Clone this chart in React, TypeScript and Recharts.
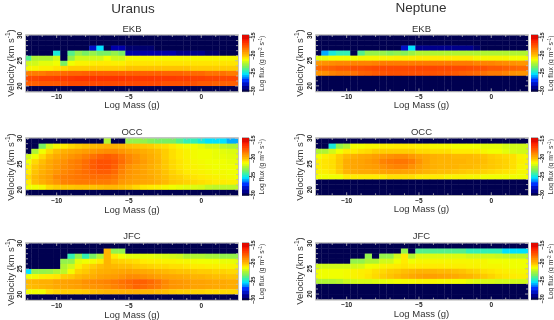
import React from "react";
import { ScatterChart, Scatter, XAxis, YAxis, ReferenceArea } from "recharts";

const massBins = [-12,-11.5,-11,-10.5,-10,-9.5,-9,-8.5,-8,-7.5,-7,-6.5,-6,-5.5,-5,-4.5,-4,-3.5,-3,-2.5,-2,-1.5,-1,-0.5,0,0.5,1,1.5,2,2.5];
const velocityBins = [29,28,27,26,25,24,23,22,21,20,19];
const massTicks = [-12,-11,-10,-9,-8,-7,-6,-5,-4,-3,-2,-1,0,1,2];
const velocityTicks = [20,21,22,23,24,25,26,27,28,29,30];
const fluxTicks = [-15,-20,-25,-30];
const fluxLevels = [-30,-29,-28,-27,-26,-25.5,-25,-24.5,-24,-23.5,-23,-22.5,-22,-21.5,-21,-20.5,-20,-19.5,-19,-18.5,-18,-17.5,-17,-16.5,-16,-15.5,-15];
const BLANK = [-30,-30,-30,-30,-30,-30,-30,-30,-30,-30,-30,-30,-30,-30,-30,-30,-30,-30,-30,-30,-30,-30,-30,-30,-30,-30,-30,-30,-30,-30];

const uranusEkb = [
  BLANK, BLANK,
  [-30,-30,-30,-30,-30,-30,-30,-30,-30,-28,-25,-30,-28.5,-28.5,-29.5,-29.5,-29.5,-29.5,-30,-30,-30,-30,-30,-30,-30,-30,-30,-30,-30,-30],
  [-30,-30,-30,-30,-24.5,-30,-23.5,-22.5,-23,-22.5,-23,-23,-22.5,-23,-28.5,-28.5,-28.5,-28.5,-28.5,-28.5,-28.5,-29,-29,-29,-29,-29.5,-29.5,-30,-30,-30],
  [-23.5,-22,-22,-22,-21.5,-30,-22.5,-21.5,-21.5,-21.5,-21.5,-21,-21.5,-21.5,-20.8,-20.8,-20.8,-20.8,-20.8,-20.8,-20.8,-20.8,-20.8,-20.8,-20.8,-20.8,-20.8,-20.8,-20.8,-20.8],
  [-21.5,-21.5,-21.2,-21.2,-21,-23,-21,-20.7,-20.7,-20.6,-20.5,-20.5,-20.6,-20.6,-20.4,-20.4,-20.4,-20.4,-20.4,-20.4,-20.4,-20.4,-20.4,-20.4,-20.4,-20.4,-20.4,-20.4,-20.4,-20.4],
  [-20.8,-20.8,-20.6,-20.6,-20.4,-20.2,-20,-20,-20,-20,-20,-20,-20,-20,-19.8,-19.8,-19.8,-19.8,-19.8,-19.8,-19.8,-19.8,-19.8,-20,-20,-20,-20,-20,-20,-20],
  [-18,-18,-18,-17.8,-17.8,-17.6,-17.5,-17.5,-17.4,-17.4,-17.4,-17.4,-17.4,-17.4,-17.4,-17.4,-17.4,-17.4,-17.4,-17.5,-17.5,-17.5,-17.6,-17.6,-17.6,-17.8,-17.8,-17.8,-18,-18],
  [-16.8,-16.8,-16.6,-16.6,-16.5,-16.4,-16.3,-16.2,-16.2,-16.2,-16.2,-16.2,-16.2,-16.2,-16.3,-16.3,-16.3,-16.3,-16.4,-16.4,-16.4,-16.5,-16.5,-16.6,-16.6,-16.7,-16.7,-16.8,-16.8,-16.8],
  [-17.4,-17.4,-17.2,-17.2,-17.2,-17,-16.8,-16.8,-16.8,-16.8,-16.8,-16.8,-16.8,-16.8,-16.8,-16.8,-16.8,-16.8,-16.8,-17,-17,-17,-17,-17,-17.2,-17.2,-17.4,-17.4,-17.4,-17.4],
  BLANK,
];

const neptuneEkb = [
  BLANK, BLANK,
  [-30,-30,-30,-30,-30,-30,-30,-30,-30,-30,-30,-30,-28,-25,-29,-29,-29,-29,-29,-29,-29,-29,-29.5,-30,-30,-30,-30,-30,-30,-30],
  [-30,-25.5,-24.5,-24,-24,-30,-23.5,-22.5,-22.5,-22.5,-22.8,-22.6,-22.8,-22.4,-22,-22,-22,-22,-22,-22,-22,-22,-22,-22,-22,-22,-22,-22,-22,-22],
  [-21.2,-21.2,-21,-21,-21,-21,-20.8,-20.8,-20.8,-20.7,-20.7,-20.6,-20.6,-20.6,-20.5,-20.5,-20.5,-20.5,-20.5,-20.5,-20.5,-20.5,-20.8,-20.8,-20.8,-20.8,-20.8,-21,-21,-21],
  [-18.6,-18.5,-18.4,-18.3,-18.3,-18.2,-18.2,-18.2,-18.1,-18,-18,-18,-18,-18,-18,-18,-18,-18,-18,-18,-18,-18,-18.2,-18.2,-18.2,-18.3,-18.4,-18.5,-18.6,-18.6],
  [-17.6,-17.5,-17.4,-17.2,-17.2,-17,-17,-16.9,-16.8,-16.8,-16.8,-16.8,-16.8,-16.8,-16.7,-16.7,-16.7,-16.8,-16.8,-16.8,-16.8,-16.9,-17,-17,-17.2,-17.2,-17.4,-17.5,-17.6,-17.6],
  [-18.6,-18.5,-18.2,-18,-18,-17.8,-17.5,-17.4,-17.2,-17.1,-17,-17,-17,-17,-17,-17,-17,-17.1,-17.1,-17.2,-17.4,-17.5,-17.6,-17.8,-18,-18,-18.2,-18.5,-18.6,-18.6],
  BLANK, BLANK, BLANK,
];

const uranusOcc = [
  [-30,-30,-30,-30,-30,-30,-30,-30,-30,-30,-30,-22,-30,-30,-22.5,-22.5,-22.5,-22.8,-23,-23,-23,-23.5,-24,-24,-24.5,-25,-25,-25,-25.5,-25.5],
  [-30,-30,-23,-21.5,-20.8,-20.5,-20.2,-20,-19.8,-19.6,-19.5,-19.4,-19.4,-19.5,-19.7,-19.8,-19.9,-20,-20.2,-20.3,-20.5,-20.8,-21,-21,-21.2,-21.5,-21.5,-21.8,-22,-22],
  [-30,-22,-21,-20.2,-19.7,-19.4,-19.2,-19,-18.8,-18.7,-18.5,-18.4,-18.4,-18.6,-18.9,-19.1,-19.3,-19.5,-19.7,-20,-20.3,-20.5,-20.7,-20.9,-21,-21,-21.1,-21.2,-21.3,-21.3],
  [-21.5,-21,-20.2,-19.6,-19.2,-18.9,-18.6,-18.4,-18.1,-17.8,-17.5,-17.3,-17.5,-17.9,-18.3,-18.6,-19,-19.3,-19.6,-20,-20.3,-20.5,-20.7,-20.9,-21,-21,-21.1,-21.1,-21.2,-21.2],
  [-21,-20.2,-19.7,-19.2,-18.8,-18.5,-18.2,-18,-17.7,-17.3,-17,-17,-17.2,-17.7,-18.2,-18.5,-18.8,-19.2,-19.5,-19.9,-20.2,-20.4,-20.6,-20.8,-20.9,-21,-21,-21,-21.1,-21.1],
  [-20.6,-19.9,-19.5,-19.1,-18.7,-18.4,-18.2,-18,-17.7,-17.3,-17,-17,-17.4,-18,-18.5,-18.8,-19,-19.3,-19.6,-19.9,-20.2,-20.4,-20.6,-20.7,-20.8,-20.9,-21,-21,-21,-21],
  [-20.5,-19.8,-19.4,-19,-18.6,-18.3,-18.1,-17.9,-17.7,-17.5,-17.3,-17.3,-17.6,-18.2,-18.6,-18.8,-19,-19.3,-19.5,-19.8,-20.1,-20.3,-20.5,-20.6,-20.7,-20.8,-20.9,-20.9,-21,-21],
  [-20.2,-19.6,-19.2,-18.9,-18.3,-18.1,-18,-17.9,-17.8,-17.7,-17.7,-17.7,-17.9,-18.4,-18.7,-18.9,-19,-19.2,-19.5,-19.7,-20,-20.1,-20.3,-20.4,-20.5,-20.6,-20.7,-20.8,-20.9,-21],
  [-20.5,-19.7,-19.4,-19,-18.6,-18.2,-18.1,-18,-18,-18,-18,-18,-18.2,-18.7,-18.9,-19,-19.1,-19.2,-19.4,-19.6,-19.9,-20,-20.1,-20.2,-20.3,-20.4,-20.5,-20.5,-20.6,-20.6],
  [-21,-21,-20.8,-20.2,-20,-19.9,-19.9,-19.8,-19.8,-19.8,-19.7,-19.6,-19.6,-19.7,-19.9,-20.2,-20.4,-20.5,-20.6,-20.8,-21,-21.1,-21.2,-21.3,-21.4,-21.7,-21.8,-21.8,-21.8,-21.8],
  BLANK,
];

const neptuneOcc = [
  BLANK,
  [-30,-30,-24.5,-22.5,-22,-21,-21,-20.8,-20.8,-20.6,-20.6,-20.5,-20.5,-20.5,-20.6,-20.6,-20.8,-20.8,-20.8,-21,-21,-21,-21,-21.2,-21.2,-21.2,-21.4,-21.5,-21.5,-21.5],
  [-22,-22,-21.5,-21,-20.5,-20.5,-20.3,-20.2,-20,-20,-20,-20,-20,-20,-20.2,-20.2,-20.3,-20.3,-20.3,-20.5,-20.5,-20.5,-20.5,-20.8,-21,-21,-21.2,-21.4,-21.5,-21.5],
  [-21,-20.6,-20.4,-20,-19.6,-19.4,-19.2,-19.1,-18.9,-18.7,-18.5,-18.4,-18.4,-18.7,-19,-19.2,-19.4,-19.5,-19.5,-19.6,-19.6,-19.6,-19.7,-19.8,-20,-20.1,-20.2,-20.3,-20.7,-20.8],
  [-20.6,-20.4,-20.3,-19.9,-19.3,-19.1,-19,-18.8,-18.6,-18.2,-18,-17.9,-17.9,-18.1,-18.6,-19.1,-19.4,-19.5,-19.5,-19.5,-19.5,-19.6,-19.6,-19.7,-19.9,-20,-20.1,-20.3,-20.6,-20.7],
  [-20.6,-20.4,-20.3,-19.9,-19.3,-19.1,-19,-18.9,-18.8,-18.5,-18.3,-18.2,-18.2,-18.5,-18.9,-19.2,-19.4,-19.5,-19.5,-19.5,-19.6,-19.6,-19.7,-19.8,-19.9,-20,-20.1,-20.3,-20.7,-20.8],
  [-20.7,-20.6,-20.4,-20,-19.5,-19.3,-19.2,-19.2,-19.1,-19,-18.9,-18.9,-19,-19.1,-19.3,-19.5,-19.6,-19.7,-19.7,-19.8,-19.9,-20,-20,-20.1,-20.2,-20.3,-20.4,-20.5,-20.8,-20.8],
  [-21,-21,-21,-21,-20.5,-20.5,-20.5,-20.5,-20.5,-20.5,-20.3,-20.3,-20.3,-20.3,-20.5,-20.5,-20.5,-20.5,-20.7,-20.7,-20.7,-20.8,-20.8,-21,-21,-21,-21,-21,-21,-21],
  BLANK, BLANK, BLANK,
];

const uranusJfc = [
  BLANK,
  [-30,-30,-30,-30,-30,-30,-30,-30,-30,-30,-30,-19.5,-22.5,-22.5,-30,-30,-30,-30,-30,-30,-30,-30,-30,-30,-30,-30,-30,-30,-30,-30],
  [-30,-30,-30,-30,-30,-30,-24,-22.5,-24,-23,-22,-19.5,-20.5,-21,-21.2,-21.2,-21.2,-21.2,-21.3,-21.4,-21.5,-21.6,-22,-22,-22,-22.2,-22.2,-22.5,-22.5,-22.5],
  [-30,-30,-30,-30,-30,-22.5,-22.5,-21.2,-21,-20.9,-20.5,-19.5,-20,-20.1,-20.2,-20.3,-20.5,-20.6,-20.6,-20.7,-20.7,-20.8,-20.8,-20.9,-21,-21,-21,-21.1,-21.1,-21.2],
  [-30,-30,-30,-30,-30,-22,-21.5,-20.6,-20.2,-20,-19.7,-19.5,-19.6,-19.7,-19.7,-19.9,-20,-20.1,-20.2,-20.2,-20.3,-20.3,-20.4,-20.5,-20.5,-20.6,-20.6,-20.7,-20.7,-20.7],
  [-25,-22.5,-22.5,-22.4,-22,-21.8,-20.9,-20.1,-19.9,-19.6,-19.4,-19.3,-19.2,-19.1,-19,-19.1,-19.2,-19.3,-19.5,-19.6,-19.7,-19.8,-19.8,-19.9,-20,-20,-20.1,-20.1,-20.2,-20.2],
  [-21,-20.9,-20.6,-20.5,-20.4,-20,-19.9,-19.6,-19.4,-19.3,-19,-18.9,-18.8,-18.6,-18.4,-18.4,-18.5,-18.7,-18.9,-19,-19.1,-19.2,-19.3,-19.5,-19.5,-19.6,-19.7,-19.7,-19.8,-19.8],
  [-19.6,-19.5,-19.4,-19.4,-19.1,-19,-18.9,-18.8,-18.5,-18.4,-18.3,-18.2,-18,-17.8,-17.6,-17.4,-17.4,-17.6,-17.9,-18.3,-18.6,-18.7,-18.8,-19,-19,-19.1,-19.2,-19.2,-19.3,-19.3],
  [-19.7,-19.6,-19.5,-19.4,-19.2,-19.1,-19,-18.9,-18.7,-18.6,-18.5,-18.4,-18.2,-18,-17.8,-17.5,-17.6,-17.8,-18,-18.4,-18.6,-18.7,-18.8,-19,-19,-19.1,-19.2,-19.2,-19.3,-19.3],
  [-21,-21,-21,-20.3,-20.1,-20,-20,-20,-19.9,-19.7,-19.6,-19.5,-19.5,-19.4,-19.4,-19.4,-19.5,-19.5,-19.6,-19.7,-19.9,-20,-20,-20.1,-20.1,-20.2,-20.2,-20.2,-20.2,-20.2],
  BLANK,
];

const neptuneJfc = [
  BLANK,
  [-30,-30,-30,-30,-30,-30,-30,-30,-30,-30,-30,-30,-22.5,-30,-23.5,-23.5,-23.5,-23.5,-23.5,-23.5,-23.5,-24,-24,-24,-24,-24,-25,-25,-25,-25],
  [-30,-30,-30,-30,-30,-30,-30,-22.5,-30,-22.5,-22.5,-21.5,-20.5,-22,-21.3,-21.3,-21.3,-21.3,-21.3,-21.3,-21.3,-21.5,-21.5,-21.5,-21.5,-21.6,-21.7,-21.8,-21.8,-21.8],
  [-30,-30,-30,-30,-30,-22.5,-22.5,-22,-22,-21.5,-21.5,-21,-20.5,-21,-20.8,-20.8,-20.8,-20.8,-20.8,-20.8,-20.8,-20.8,-20.8,-20.8,-21,-21,-21,-21,-21,-21],
  [-21.5,-21.5,-21.5,-21.5,-21.5,-21.5,-21.4,-21,-20.9,-20.7,-20.6,-20.5,-20.4,-20.5,-20.5,-20.5,-20.5,-20.5,-20.6,-20.6,-20.6,-20.7,-20.7,-20.8,-20.8,-20.8,-20.9,-21,-21,-21],
  [-21,-21,-21,-21,-20.9,-20.7,-20.6,-20.5,-20.3,-20.2,-20,-19.9,-19.7,-19.6,-19.5,-19.5,-19.5,-19.6,-19.6,-19.7,-19.8,-20,-20.1,-20.3,-20.4,-20.5,-20.6,-20.7,-20.8,-20.8],
  [-21,-21,-21,-21,-20.9,-20.7,-20.6,-20.4,-20.2,-20,-19.8,-19.6,-19.4,-19.2,-19,-18.9,-18.9,-19,-19.1,-19.2,-19.4,-19.5,-19.7,-19.9,-20.1,-20.3,-20.4,-20.5,-20.6,-20.6],
  [-22,-22,-22,-21.9,-21.6,-21.5,-21.4,-21.4,-21.3,-21.2,-21.1,-21,-20.9,-20.9,-20.8,-20.8,-20.8,-20.9,-20.9,-21,-21,-21.2,-21.3,-21.4,-21.4,-21.5,-21.5,-21.5,-21.5,-21.5],
  BLANK, BLANK, BLANK,
];

const colorStops: [number, number, number, number][] = [
  [-30, 0, 0, 80], [-28.5, 0, 0, 170], [-27, 0, 50, 255], [-25.5, 0, 170, 255], [-25, 0, 225, 255],
  [-24, 50, 240, 180], [-23, 120, 240, 100], [-22, 175, 245, 50], [-21, 240, 255, 0], [-20.5, 255, 235, 0],
  [-20, 255, 205, 0], [-19.5, 255, 180, 0], [-18.5, 255, 145, 0], [-17.5, 255, 100, 0], [-16.5, 255, 62, 0], [-15.5, 250, 30, 0], [-15, 225, 10, 0],
];

function fluxColor(v: number): string {
  for (let i = 1; i < colorStops.length; i++) {
    if (v <= colorStops[i][0]) {
      const a = colorStops[i - 1], b = colorStops[i];
      const t = (v - a[0]) / (b[0] - a[0]);
      return `rgb(${[1, 2, 3].map((k) => Math.round(a[k] + (b[k] - a[k]) * t)).join(",")})`;
    }
  }
  return "rgb(225,10,0)";
}

const FONT = "Liberation Sans, Arial, sans-serif";
const INK = "#333";
const X_MIN = -12.12, X_MAX = 2.54, Y_MIN = 18.9, Y_MAX = 30.1;
const FLUX_MIN = -30.2, FLUX_MAX = -14.4;

function HeatPanel({ rows, left, top, width, height, title, titleY, labelY, bar }: any) {
  const data = rows.flatMap((row: number[], r: number) =>
    row.map((v, c) => ({ x: massBins[c], y: velocityBins[r] + 0.5, v }))
  );
  const pxX = width / (X_MAX - X_MIN);
  const pxY = height / (Y_MAX - Y_MIN);
  const ml = 30, mt = 14, mr = 4, mb = 22;
  const Cell = (p: any) => {
    if (p.cx == null) return null;
    const x0 = Math.max(ml, p.cx - 0.25 * pxX);
    const x1 = Math.min(ml + width, p.cx + 0.25 * pxX);
    const y0 = Math.max(mt, p.cy - 0.5 * pxY);
    const y1 = Math.min(mt + height, p.cy + 0.5 * pxY);
    return <rect x={x0} y={y0} width={x1 - x0 + 0.3} height={y1 - y0 + 0.3} fill={fluxColor(p.payload.v)} />;
  };
  const XTick = (p: any) => {
    const v = p.payload.value;
    const major = v % 5 === 0;
    return (
      <g>
        <line x1={p.x} x2={p.x} y1={mt + height} y2={mt + height - (major ? 3 : 2)} stroke="#b8b8b8" strokeWidth={0.8} />
        <line x1={p.x} x2={p.x} y1={mt} y2={mt + (major ? 3 : 2)} stroke="#b8b8b8" strokeWidth={0.8} />
        {major && (
          <text x={p.x} y={mt + height + 7.5} textAnchor="middle" fontSize={6.5} fontWeight="bold" fontFamily={FONT} fill="#222">
            {v === 0 ? "0" : `\u2212${Math.abs(v)}`}
          </text>
        )}
      </g>
    );
  };
  const YTick = (p: any) => {
    const v = p.payload.value;
    const major = v % 5 === 0;
    return (
      <g>
        <line x1={ml} x2={ml + (major ? 3 : 2)} y1={p.y} y2={p.y} stroke="#b8b8b8" strokeWidth={0.8} />
        <line x1={ml + width} x2={ml + width - (major ? 3 : 2)} y1={p.y} y2={p.y} stroke="#b8b8b8" strokeWidth={0.8} />
        {major && (
          <text transform={`translate(${ml - 4.5},${p.y}) rotate(-90)`} textAnchor="middle" fontSize={6.5} fontWeight="bold" fontFamily={FONT} fill="#222">
            {v}
          </text>
        )}
      </g>
    );
  };
  return (
    <div style={{ position: "absolute", left: left - ml, top: top - mt }}>
      <ScatterChart width={ml + width + mr} height={mt + height + mb} margin={{ left: 0, top: mt, right: mr, bottom: 0 }}>
        <XAxis type="number" dataKey="x" domain={[X_MIN, X_MAX]} ticks={massTicks} interval={0} axisLine={false} tickLine={false} tick={XTick} height={mb} allowDataOverflow />
        <YAxis type="number" dataKey="y" domain={[Y_MIN, Y_MAX]} ticks={velocityTicks} interval={0} axisLine={false} tickLine={false} tick={YTick} width={ml} allowDataOverflow />
        <Scatter data={data} shape={Cell} isAnimationActive={false} />
        <ReferenceArea x1={X_MIN} x2={X_MAX} y1={Y_MIN} y2={Y_MAX} fill="none" stroke="#b4b4b4" strokeWidth={1.6} ifOverflow="visible" />
      </ScatterChart>
      <Label x={ml + width / 2} y={titleY - top + mt} size={9.5} text={title} />
      <Label x={ml + width / 2} y={labelY - top + mt} size={9.5} text="Log Mass (g)" />
      <YLabel x={ml - 16.5} y={mt + height / 2} />
      <ColorBar x={bar - left + ml} y={mt} height={height} />
    </div>
  );
}

function Label({ x, y, size, text }: any) {
  return (
    <div style={{ position: "absolute", left: x - 100, width: 200, top: y - size, lineHeight: `${size * 2}px`, textAlign: "center", fontFamily: FONT, fontSize: size, color: INK }}>
      {text}
    </div>
  );
}

function YLabel({ x, y }: any) {
  return (
    <svg style={{ position: "absolute", left: x - 12, top: y - 45, overflow: "visible" }} width={24} height={90}>
      <text transform="translate(12,45) rotate(-90)" y={3.5} textAnchor="middle" fontFamily={FONT} fontSize={9.5} fill={INK}>
        Velocity (km s<tspan dy={-3.5} fontSize={6.5}>-1</tspan><tspan dy={3.5}>)</tspan>
      </text>
    </svg>
  );
}

function ColorBar({ x, y, height }: any) {
  const w = 7;
  const pad = 7;
  const data = fluxLevels.map((f) => ({ x: 0.5, y: f, v: f }));
  const pxY = height / (FLUX_MAX - FLUX_MIN);
  const Seg = (p: any) => {
    if (p.cx == null) return null;
    return <rect x={0} y={p.cy - pxY * 0.62} width={w} height={pxY * 1.24} fill={fluxColor(p.payload.v)} />;
  };
  const Tick = (p: any) => (
    <g>
      <line x1={w} x2={w + 2} y1={p.y} y2={p.y} stroke="#222" strokeWidth={0.8} />
      <text transform={`translate(${w + 6},${p.y}) rotate(-90)`} textAnchor="middle" fontSize={5.5} fontWeight="bold" fontFamily={FONT} fill="#222">
        {`\u2212${Math.abs(p.payload.value)}`}
      </text>
    </g>
  );
  return (
    <div style={{ position: "absolute", left: x, top: y - pad }}>
      <ScatterChart width={w + 14} height={height + pad * 2} margin={{ left: 0, top: pad, right: 0, bottom: pad }}>
        <XAxis type="number" dataKey="x" domain={[0, 1]} hide />
        <YAxis type="number" dataKey="y" orientation="right" domain={[FLUX_MIN, FLUX_MAX]} ticks={fluxTicks} interval={0} axisLine={false} tickLine={false} tick={Tick} width={14} allowDataOverflow />
        <Scatter data={data} shape={Seg} isAnimationActive={false} />
        <ReferenceArea x1={0} x2={1} y1={FLUX_MIN} y2={FLUX_MAX} fill="none" stroke="#333" strokeWidth={0.7} ifOverflow="visible" />
      </ScatterChart>
      <svg style={{ position: "absolute", left: w + 8, top: pad, overflow: "visible" }} width={10} height={height}>
        <text transform={`translate(7,${height / 2}) rotate(-90)`} textAnchor="middle" fontFamily={FONT} fontSize={6.8} fill={INK}>
          Log flux (g m<tspan dy={-2.2} fontSize={4.8}>-2</tspan><tspan dy={2.2}> s</tspan><tspan dy={-2.2} fontSize={4.8}>-1</tspan><tspan dy={2.2}>)</tspan>
        </text>
      </svg>
    </div>
  );
}

export default function App() {
  return (
    <div style={{ position: "absolute", left: 0, top: 0, width: 554, height: 320, background: "#fff", overflow: "hidden", filter: "blur(0.35px)" }}>
      <Label x={133} y={8} size={13.5} text="Uranus" />
      <Label x={421} y={7.5} size={13.5} text="Neptune" />
      <HeatPanel rows={uranusEkb} left={26} top={34.6} width={212} height={56.6} title="EKB" titleY={28} labelY={104.5} bar={241.5} />
      <HeatPanel rows={neptuneEkb} left={315.5} top={34.6} width={212} height={56.4} title="EKB" titleY={28} labelY={105} bar={531.3} />
      <HeatPanel rows={uranusOcc} left={26} top={138.3} width={212} height={57.5} title="OCC" titleY={131.7} labelY={209.5} bar={241.5} />
      <HeatPanel rows={neptuneOcc} left={315.5} top={138.3} width={212} height={57.3} title="OCC" titleY={131.7} labelY={209} bar={531.3} />
      <HeatPanel rows={uranusJfc} left={26} top={243} width={212} height={57} title="JFC" titleY={235.7} labelY={314} bar={241.5} />
      <HeatPanel rows={neptuneJfc} left={315.5} top={242.7} width={212} height={56.6} title="JFC" titleY={235.7} labelY={313.5} bar={531.3} />
    </div>
  );
}
